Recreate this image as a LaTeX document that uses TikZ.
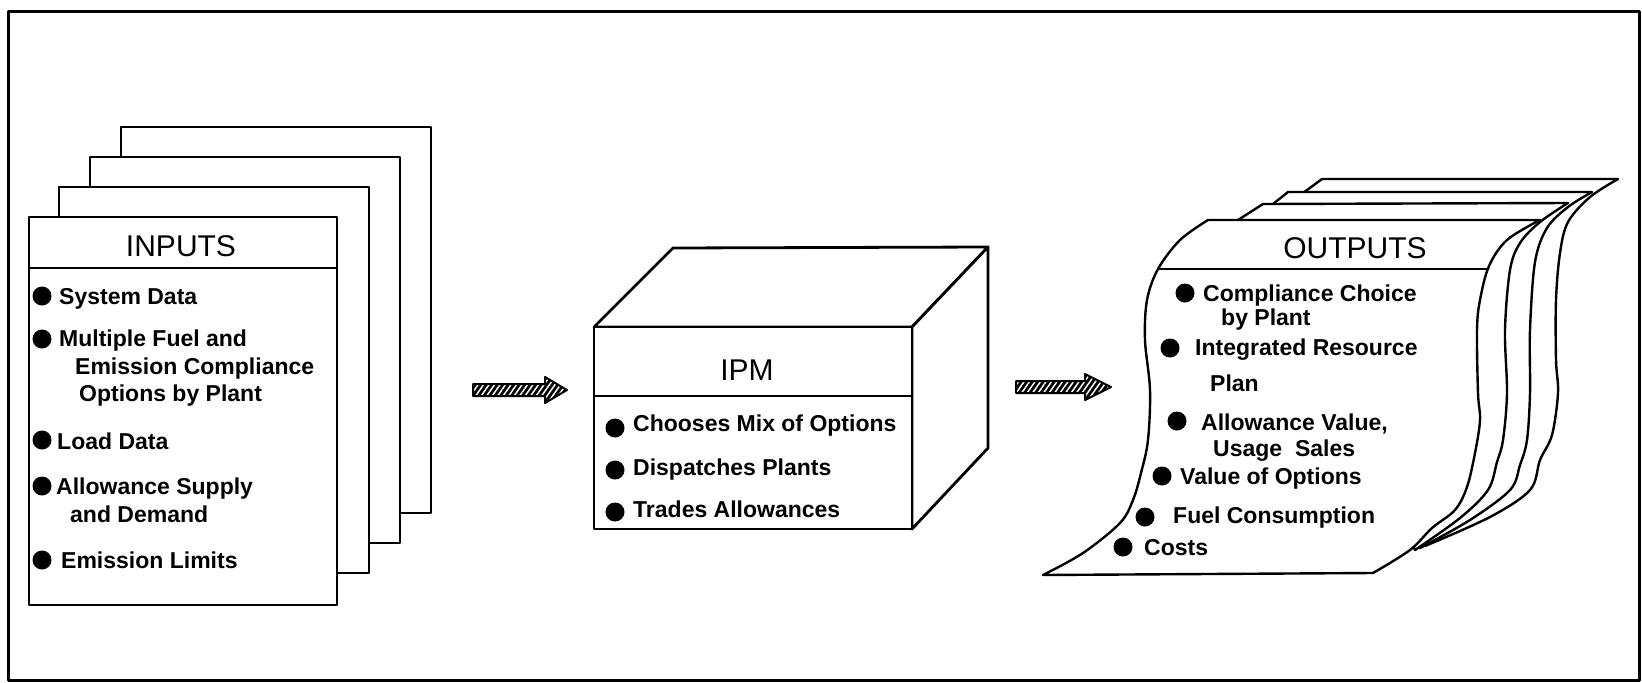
\documentclass[tikz,border=0pt]{standalone}
\usepackage{fontspec}
\setmainfont{Liberation Sans}
\usetikzlibrary{patterns.meta}
\newcommand\itemfont{\bfseries\fontsize{23}{26}\selectfont}
\newcommand\headfont{\fontsize{30}{34}\selectfont}
\begin{document}
\begin{tikzpicture}[x=1pt,y=-1pt,line join=round,
  sheet/.style={draw=black, fill=white, line width=2.8pt},
  wavy/.style={draw=black, fill=white, line width=2.4pt},
  itm/.style={anchor=base west, inner sep=0pt, font=\itemfont},
  hd/.style={anchor=center, inner sep=0pt, font=\headfont},
  dot/.style={circle, fill=black, inner sep=0pt, minimum size=19pt},
  blockarrow/.style={draw=black, line width=2pt, preaction={fill=black},
    pattern={Lines[angle=55, distance=4.5pt, line width=1.5pt]}, pattern color=white}]
\useasboundingbox (0,0) rectangle (1642,683);
\draw[line width=3pt] (8,11) rectangle (1639,680);

% ---------------- INPUTS stack
\draw[sheet] (121,127) rectangle (431,513);
\draw[sheet] (90,157) rectangle (400,543);
\draw[sheet] (59,187) rectangle (369,573);
\draw[sheet] (29,217) rectangle (337,605);
\draw[sheet] (29,268) -- (337,268);
\node[hd] (inTitle) at (181,246) {INPUTS};
\node[dot] (ib1) at (42,296) {};
\node[itm] (it1) at (59,304) {System Data};
\node[dot] (ib2) at (42,339) {};
\node[itm] (it2a) at (59,346) {Multiple Fuel and};
\node[itm] (it2b) at (75,374) {Emission Compliance};
\node[itm] (it2c) at (79,401) {Options by Plant};
\node[dot] (ib3) at (42,440) {};
\node[itm] (it3) at (57,449) {Load Data};
\node[dot] (ib4) at (42,486) {};
\node[itm] (it4a) at (56,494) {Allowance Supply};
\node[itm] (it4b) at (70,522) {and Demand};
\node[dot] (ib5) at (42,560) {};
\node[itm] (it5) at (61,568) {Emission Limits};

% ---------------- arrows
\coordinate (a1s) at (473,378);
\coordinate (a2s) at (1016,375);
\draw[blockarrow] ([yshift=-6]a1s) -- ++(72,0) -- ++(0,-7) -- ++(22,13) -- ++(-22,13) -- ++(0,-7) -- ++(-72,0) -- cycle;
\draw[blockarrow] ([yshift=-6]a2s) -- ++(69,0) -- ++(0,-7) -- ++(26,13) -- ++(-26,13) -- ++(0,-7) -- ++(-69,0) -- cycle;

% ---------------- IPM cube
\draw[sheet] (594,327) -- (673,248) -- (988,247) -- (912,327) -- cycle;
\draw[sheet] (912,327) -- (988,247) -- (988,448) -- (912,529) -- cycle;
\draw[sheet] (594,327) rectangle (912,529);
\draw[sheet] (594,396) -- (912,396);
\node[hd] (ipmTitle) at (747,370) {IPM};
\node[dot] (pb1) at (615,428) {};
\node[itm] (pt1) at (633,431) {Chooses Mix of Options};
\node[dot] (pb2) at (615,470) {};
\node[itm] (pt2) at (633,475) {Dispatches Plants};
\node[dot] (pb3) at (615,512) {};
\node[itm] (pt3) at (633,517) {Trades Allowances};

% ---------------- OUTPUTS stack
\draw[wavy] (1303,193) -- (1322,179) -- (1618,179)
  -- plot[smooth, tension=0.55] coordinates {(1618,179) (1590,197) (1568,222) (1560,253) (1556,300) (1556,360) (1558,393) (1552,435) (1540,460) (1530,490) (1490,517) (1425,546)}
  -- (1350,400) -- cycle;
\draw[wavy] (1273,204) -- (1288,192) -- (1592,192)
  -- plot[smooth, tension=0.55] coordinates {(1592,192) (1568,207) (1547,228) (1535,262) (1530,330) (1530,393) (1527,440) (1520,465) (1510,490) (1470,520) (1420,548)}
  -- (1350,400) -- cycle;
\draw[wavy] (1238,220) -- (1263,204) -- (1568,203)
  -- plot[smooth, tension=0.55] coordinates {(1568,203) (1540,222) (1520,243) (1510,270) (1505,330) (1507,393) (1503,440) (1497,462) (1488,490) (1460,518) (1415,550)}
  -- (1350,400) -- cycle;
\draw[wavy] (1208,220) -- (1540,220)
  -- plot[smooth, tension=0.55] coordinates {(1540,220) (1507,240) (1489,266) (1480,300) (1477,330) (1478,393) (1480,420) (1475,453) (1467,487) (1455,510) (1432,528) (1410,550) (1373,573)}
  -- (1043,575)
  -- plot[smooth, tension=0.55] coordinates {(1043,575) (1083,553) (1120,523) (1133,500) (1141,473) (1148,440) (1150,390) (1145,340) (1147,300) (1158,269) (1180,240) (1208,220)}
  -- cycle;
\draw[wavy] (1158,269) -- (1487,269);
\node[hd] (outTitle) at (1355,248) {OUTPUTS};
\node[dot] (ob1) at (1185,293) {};
\node[itm] (ot1a) at (1203,301) {Compliance Choice};
\node[itm] (ot1b) at (1221,325) {by Plant};
\node[dot] (ob2) at (1170,348) {};
\node[itm] (ot2a) at (1195,355) {Integrated Resource};
\node[itm] (ot2b) at (1210,391) {Plan};
\node[dot] (ob3) at (1177,421) {};
\node[itm] (ot3a) at (1201,430) {Allowance Value,};
\node[itm] (ot3b) at (1213,456) {Usage~~Sales};
\node[dot] (ob4) at (1162,476) {};
\node[itm] (ot4) at (1180,484) {Value of Options};
\node[dot] (ob5) at (1145,517) {};
\node[itm] (ot5) at (1173,523) {Fuel Consumption};
\node[dot] (ob6) at (1123,547) {};
\node[itm] (ot6) at (1144,555) {Costs};
\end{tikzpicture}
\end{document}
